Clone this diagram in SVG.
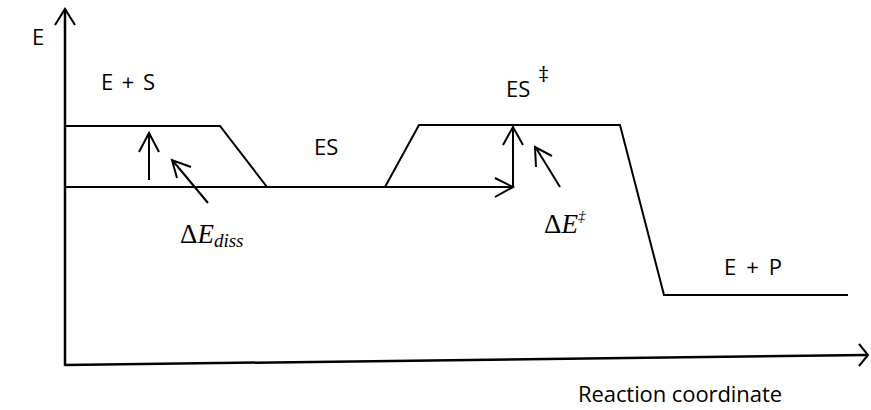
<svg xmlns="http://www.w3.org/2000/svg" width="871" height="410" viewBox="0 0 871 410">
<style>
.ln{fill:none;stroke:#000;stroke-width:2;stroke-linejoin:miter}
.ax{fill:none;stroke:#000;stroke-width:2.5}
.ah{fill:none;stroke:#000;stroke-width:2}
.lb{font-family:"Open Sans","Liberation Sans",sans-serif;font-size:22px;fill:#000}
.mt{font-family:"Liberation Serif","Times New Roman",serif;fill:#000}
</style>
<rect width="871" height="410" fill="#fff"/>
<g id="axes">
<line class="ax" x1="65" y1="366" x2="65" y2="9"/>
<polyline class="ah" points="55,25 65,9 75,25"/>
<line class="ax" x1="65" y1="365" x2="867" y2="355"/>
<polyline class="ah" points="859,344 868,355 859,366"/>
</g>
<g id="energy-profile">
<polyline class="ln" points="66,126 220,126 267,187 385,187 419,125 620,125 664,295 848,295"/>
</g>
<g id="connectors">
<line class="ln" x1="66" y1="187" x2="512" y2="187"/>
<polyline class="ah" points="495,178 513,187 495,197"/>
<line class="ln" x1="513" y1="187" x2="513" y2="128"/>
<polyline class="ah" points="503,145 513,127 523,145"/>
<line class="ln" x1="149" y1="180" x2="149" y2="134"/>
<polyline class="ah" points="139,152 149,133 159,152"/>
<line class="ln" x1="208" y1="203" x2="173" y2="161"/>
<polyline class="ah" points="177,178 172,160 191,167"/>
<line class="ln" x1="560" y1="187" x2="536" y2="148"/>
<polyline class="ah" points="536,167 535,147 552,156"/>
</g>
<g id="labels">
<text class="lb" x="32" y="45">E</text>
<text class="lb" x="101" y="90" textLength="54">E + S</text>
<text class="lb" x="314" y="155">ES</text>
<text class="lb" x="506" y="97">ES</text>
<text class="lb" x="538" y="82" font-size="22">‡</text>
<text class="lb" x="724" y="275" textLength="58">E + P</text>
<text class="lb" x="578" y="402" textLength="204">Reaction coordinate</text>
<text class="mt" x="180" y="243" font-size="27">Δ<tspan font-style="italic">E</tspan><tspan font-style="italic" font-size="19" dy="4">diss</tspan></text>
<text class="mt" x="544" y="233" font-size="27">Δ<tspan font-style="italic">E</tspan><tspan font-style="italic" font-size="15" dy="-12">‡</tspan></text>
</g>
</svg>
